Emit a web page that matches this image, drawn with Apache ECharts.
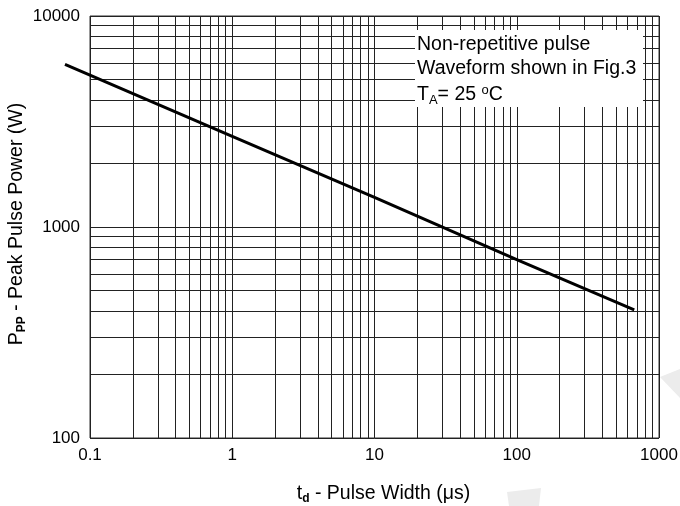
<!DOCTYPE html>
<html>
<head>
<meta charset="utf-8">
<script src="https://cdn.jsdelivr.net/npm/echarts@6/dist/echarts.min.js"></script>
<style>html,body{margin:0;padding:0;background:#fff;}#c{width:680px;height:506px;}</style>
</head>
<body>
<div id="c"></div>
<script>
// Data
var pulseWidth = [0.0667, 1, 10, 100, 670];      // µs
var peakPower  = [5900, 2690, 1380, 700, 405];   // W
var xMinorGrid = [0.2,0.3,0.4,0.5,0.6,0.7,0.8,0.9, 2,3,4,5,6,7,8,9, 20,30,40,50,60,70,80,90, 200,300,400,500,600,700,800,900];
var yMinorGrid = [200,300,400,500,600,700,800,900, 2000,3000,4000,5000,6000,7000,8000,9000];
var noteLines = ['Non-repetitive pulse', 'Waveform shown in Fig.3'];

var FONT = "'Liberation Sans', Arial, sans-serif";
var chart = echarts.init(document.getElementById('c'), null, {renderer: 'canvas'});

var gridMarks = [];
xMinorGrid.forEach(function (v) { gridMarks.push({xAxis: v}); });
yMinorGrid.forEach(function (v) { gridMarks.push({yAxis: v}); });

// The curve starts a little left of the frame, so it lives on a hidden, wider copy of the x axis.
var curveMinX = pulseWidth[0];
var decadePx = (659 - 90) / 4;
var curveLeft = 90 - decadePx * Math.log10(0.1 / curveMinX);

var titleRich = {
  a: {fontFamily: FONT, fontSize: 19.5, fill: '#000', color: '#000'},
  s: {fontFamily: FONT, fontSize: 12, fill: '#000', color: '#000', fontWeight: 'bold', padding: [10, 0, 0, 0]}
};

var option = {
  animation: false,
  backgroundColor: '#fff',
  grid: [
    {left: 90, right: 21, top: 16, bottom: 68, containLabel: false, outerBoundsMode: 'none',
      show: true, borderColor: '#333', borderWidth: 1, backgroundColor: 'transparent'},
    {left: curveLeft, right: 21, top: 16, bottom: 68, containLabel: false, outerBoundsMode: 'none', show: false}
  ],
  xAxis: [{
    type: 'log', logBase: 10, min: 0.1, max: 1000, gridIndex: 0,
    axisLine: {show: false}, axisTick: {show: false},
    splitLine: {show: true, lineStyle: {color: '#222', width: 1}},
    axisLabel: {color: '#000', fontFamily: FONT, fontSize: 17, margin: 9,
      formatter: function (v) { return String(+(+v).toPrecision(3)); }},
    name: '{a|t}{s|d}{a| - Pulse Width (μs)}',
    nameLocation: 'middle', nameGap: 45,
    nameTextStyle: {padding: [0, 0, 0, 18], rich: titleRich}
  }, {
    type: 'log', logBase: 10, min: curveMinX, max: 1000, gridIndex: 1, show: false
  }],
  yAxis: [{
    type: 'log', logBase: 10, min: 100, max: 10000, gridIndex: 0,
    axisLine: {show: false}, axisTick: {show: false},
    splitLine: {show: true, lineStyle: {color: '#222', width: 1}},
    axisLabel: {color: '#000', fontFamily: FONT, fontSize: 17, margin: 10,
      formatter: function (v) { return String(Math.round(+v)); }}
  }, {
    type: 'log', logBase: 10, min: 100, max: 10000, gridIndex: 1, show: false
  }],
  series: [
    {
      type: 'line', silent: true, xAxisIndex: 0, yAxisIndex: 0,
      data: [],
      showSymbol: false, symbol: 'none',
      markLine: {
        silent: true, symbol: ['none', 'none'], animation: false,
        label: {show: false},
        lineStyle: {color: '#222', width: 1, type: 'solid'},
        emphasis: {disabled: true},
        data: gridMarks,
        z: 1
      }
    },
    {
      type: 'line', clip: false, silent: true, xAxisIndex: 1, yAxisIndex: 1,
      data: pulseWidth.map(function (x, i) { return [x, peakPower[i]]; }),
      showSymbol: false, symbol: 'none',
      lineStyle: {color: '#000', width: 3},
      z: 5
    }
  ],
  graphic: [
    {type: 'text', z: 101, x: 17, y: 224, rotation: Math.PI / 2, style: {
      text: '{a|P}{s|PP}{a| - Peak Pulse Power (W)}', align: 'center', verticalAlign: 'middle', rich: titleRich}},
    {type: 'rect', z: 100, shape: {x: 415, y: 30, width: 228, height: 77}, style: {fill: '#fff'}},
    {type: 'text', z: 101, left: 417, top: 35, style: {text: noteLines[0], font: '19.5px ' + FONT, fill: '#000'}},
    {type: 'text', z: 101, left: 417, top: 59, style: {text: noteLines[1], font: '19.5px ' + FONT, fill: '#000'}},
    {type: 'text', z: 101, left: 417, top: 84, style: {
      text: '{a|T}{s|A}{a|= 25 }{o|o}{a|C}',
      rich: {
        a: {fontFamily: FONT, fontSize: 19.5, fill: '#000'},
        s: {fontFamily: FONT, fontSize: 13, fill: '#000', padding: [11, 0, 0, 0]},
        o: {fontFamily: FONT, fontSize: 13, fill: '#000', padding: [0, 0, 9, 0]}
      }}},
    {type: 'polygon', z: 0, shape: {points: [[507,492],[541,488],[539,506],[509,506]]}, style: {fill: '#ececec'}},
    {type: 'polygon', z: 0, shape: {points: [[660,377],[680,369],[680,398]]}, style: {fill: '#ececec'}}
  ]
};
chart.setOption(option);
</script>
</body>
</html>
